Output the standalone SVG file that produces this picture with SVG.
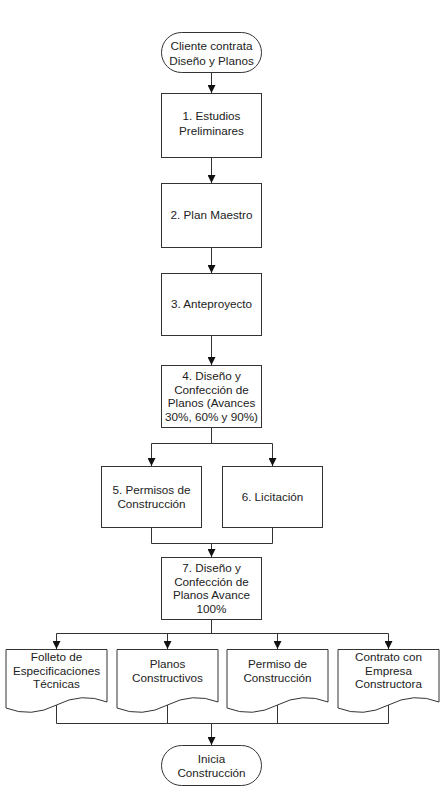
<svg xmlns="http://www.w3.org/2000/svg" width="447" height="788" viewBox="0 0 447 788">
<style>
.s{fill:#ffffff;stroke:#333333;stroke-width:1}
.c{fill:none;stroke:#333333;stroke-width:1}
.a{marker-end:url(#ah)}
text{font-family:"Liberation Sans",Arial,sans-serif;font-size:11.7px;fill:#222222;text-anchor:middle}
</style>
<defs>
<marker id="ah" markerUnits="userSpaceOnUse" markerWidth="8" markerHeight="8" refX="8" refY="4" orient="auto">
<path d="M0,0 L8,4 L0,8 Z" fill="#111111"/>
</marker>
</defs>
<rect width="447" height="788" fill="#ffffff"/>
<g id="connectors">
<path class="c a" d="M211.5,72.5 V93"/>
<path class="c a" d="M211.5,157.5 V183"/>
<path class="c a" d="M211.5,247.5 V273"/>
<path class="c a" d="M211.5,335.5 V365"/>
<path class="c" d="M211.5,427.5 V443.5 M151.5,443.5 H272.5"/>
<path class="c a" d="M151.5,443.5 V466"/>
<path class="c a" d="M272.5,443.5 V466"/>
<path class="c" d="M151.5,527.5 V543.5 H272.5 V527.5"/>
<path class="c a" d="M211.5,543.5 V557"/>
<path class="c" d="M211.5,619.5 V633.5 M56.5,633.5 H388.5"/>
<path class="c a" d="M56.5,633.5 V649"/>
<path class="c a" d="M167.5,633.5 V649"/>
<path class="c a" d="M277.5,633.5 V649"/>
<path class="c a" d="M388.5,633.5 V649"/>
<path class="c" d="M56.5,705 V723.5 H388.5 V705 M167.5,705 V723.5 M277.5,705 V723.5"/>
<path class="c a" d="M211.5,723.5 V745"/>
</g>
<g id="start">
<rect class="s" x="161.5" y="32.5" width="100" height="40" rx="20" ry="20"/>
<text x="211.5" y="50">Cliente contrata</text>
<text x="211.5" y="64.5">Diseño y Planos</text>
</g>
<g id="n1">
<rect class="s" x="161.5" y="93.5" width="100" height="64"/>
<text x="211.5" y="120">1. Estudios</text>
<text x="211.5" y="134.5">Preliminares</text>
</g>
<g id="n2">
<rect class="s" x="161.5" y="183.5" width="100" height="64"/>
<text x="211.5" y="219">2. Plan Maestro</text>
</g>
<g id="n3">
<rect class="s" x="161.5" y="273.5" width="100" height="62"/>
<text x="211.5" y="308">3. Anteproyecto</text>
</g>
<g id="n4">
<rect class="s" x="161.5" y="365.5" width="100" height="62"/>
<text x="211.5" y="380">4. Diseño y</text>
<text x="211.5" y="393.6">Confección de</text>
<text x="211.5" y="407.2">Planos (Avances</text>
<text x="211.5" y="420.8">30%, 60% y 90%)</text>
</g>
<g id="n5">
<rect class="s" x="101.5" y="466.5" width="100" height="61"/>
<text x="151.5" y="494">5. Permisos de</text>
<text x="151.5" y="508">Construcción</text>
</g>
<g id="n6">
<rect class="s" x="222.5" y="466.5" width="100" height="61"/>
<text x="272.5" y="501">6. Licitación</text>
</g>
<g id="n7">
<rect class="s" x="161.5" y="557.5" width="100" height="62"/>
<text x="211.5" y="572">7. Diseño y</text>
<text x="211.5" y="585.5">Confección de</text>
<text x="211.5" y="599">Planos Avance</text>
<text x="211.5" y="612.5">100%</text>
</g>
<g id="d1">
<path class="s" d="M6,649.5 H107 V702 Q81.75,692 56.5,705 Q31.25,718 6,708 Z"/>
<text x="56.5" y="661">Folleto de</text>
<text x="56.5" y="674.5">Especificaciones</text>
<text x="56.5" y="688">Técnicas</text>
</g>
<g id="d2">
<path class="s" d="M117,649.5 H218 V702 Q192.75,692 167.5,705 Q142.25,718 117,708 Z"/>
<text x="167.5" y="668">Planos</text>
<text x="167.5" y="681.5">Constructivos</text>
</g>
<g id="d3">
<path class="s" d="M227,649.5 H328 V702 Q302.75,692 277.5,705 Q252.25,718 227,708 Z"/>
<text x="277.5" y="668">Permiso de</text>
<text x="277.5" y="681.5">Construcción</text>
</g>
<g id="d4">
<path class="s" d="M338,649.5 H439 V702 Q413.75,692 388.5,705 Q363.25,718 338,708 Z"/>
<text x="388.5" y="661">Contrato con</text>
<text x="388.5" y="674.5">Empresa</text>
<text x="388.5" y="688">Constructora</text>
</g>
<g id="end">
<rect class="s" x="161.5" y="745.5" width="100" height="40" rx="20" ry="20"/>
<text x="211.5" y="763">Inicia</text>
<text x="211.5" y="777">Construcción</text>
</g>
</svg>
